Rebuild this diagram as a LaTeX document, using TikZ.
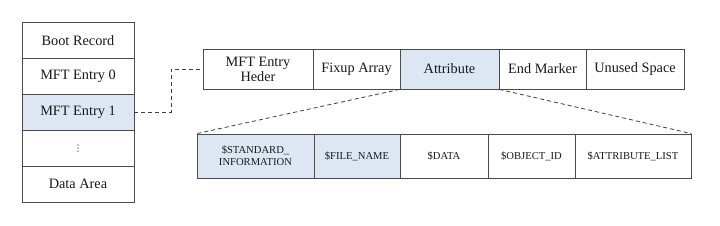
\documentclass[tikz,border=0pt]{standalone}
\usepackage{fontspec}
\setmainfont{Liberation Serif}
\newfontfamily\symfont{DejaVu Sans}
\begin{document}
\begin{tikzpicture}[x=1pt,y=-1pt,
  cell/.style={draw=black!70, line width=0.8pt, inner sep=0pt, align=center, text=black!90},
  big/.style={cell, font=\fontsize{14.3}{15}\selectfont},
  small/.style={cell, font=\fontsize{10.6}{12}\selectfont, minimum height=44},
  hl/.style={fill=blueA},
  conn/.style={draw=black!75, line width=0.8pt, dash pattern=on 4pt off 3pt}]
\definecolor{blueA}{RGB}{221,231,243}
\useasboundingbox (0,0) rectangle (720,225);
% left column
\node[big, minimum width=112, minimum height=36] (boot) at (78,40.3) {Boot Record};
\node[big, minimum width=112, minimum height=36] (e0) at (78,76.3) {MFT Entry 0};
\node[big, hl, minimum width=112, minimum height=36] (e1) at (78,112.3) {MFT Entry 1};
\node[big, minimum width=112, minimum height=36] (dots) at (78,148.3) {{\symfont\fontsize{9}{9}\selectfont ⋮}};
\node[big, minimum width=112, minimum height=36] (data) at (78,184.3) {Data Area};
% top row
\node[big, minimum width=110, minimum height=40] (hdr) at (258,69) {MFT Entry\\Heder};
\node[big, minimum width=87, minimum height=40] (fix) at (356.5,69) {Fixup Array};
\node[big, hl, minimum width=99, minimum height=40] (attr) at (449.5,69) {Attribute};
\node[big, minimum width=87, minimum height=40] (endm) at (542.5,69) {End Marker};
\node[big, minimum width=98, minimum height=40] (unused) at (635,69) {Unused Space};
% bottom row
\node[small, hl, minimum width=117] (std) at (255.5,156) {\$STANDARD\_\\INFORMATION};
\node[small, hl, minimum width=86] (fname) at (357,156) {\$FILE\_NAME};
\node[small, minimum width=88] (dat) at (444,156) {\$DATA};
\node[small, minimum width=87] (obj) at (531.5,156) {\$OBJECT\_ID};
\node[small, minimum width=116] (alist) at (633,156) {\$ATTRIBUTE\_LIST};
% connectors
\draw[conn] (e1.east) -- ++(37,0) |- (hdr.west);
\draw[conn] (attr.south west) -- (std.north west);
\draw[conn] (attr.south east) -- (alist.north east);
\end{tikzpicture}
\end{document}
